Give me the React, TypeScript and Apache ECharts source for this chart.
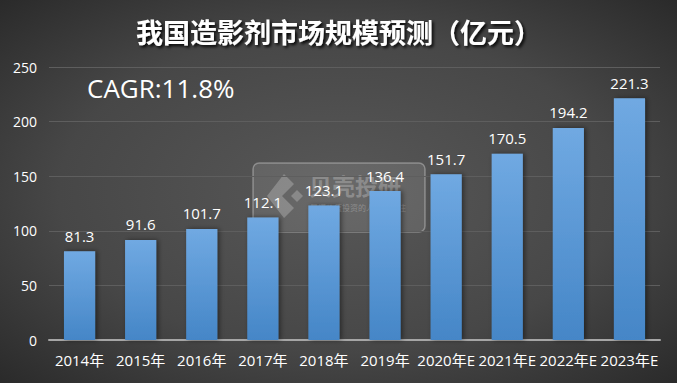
import React, { useEffect, useRef } from "react";
import * as echarts from "echarts";

const categories = ["2014年", "2015年", "2016年", "2017年", "2018年", "2019年", "2020年E", "2021年E", "2022年E", "2023年E"];
const values = [81.3, 91.6, 101.7, 112.1, 123.1, 136.4, 151.7, 170.5, 194.2, 221.3];
const yTicks = { min: 0, max: 250, interval: 50 };
const titleText = "我国造影剂市场规模预测（亿元）";
const cagrText = "CAGR:11.8%";
const watermarkTitle = "贝壳投研";
const watermarkSub = "最懂价值投资的人都在关注";

const numFont = "'Open Sans', 'Noto Sans CJK SC', sans-serif";

export default function App() {
  const ref = useRef<HTMLDivElement>(null);
  useEffect(() => {
    document.body.style.margin = "0";
    const chart = echarts.init(ref.current!, null, { renderer: "svg" });
    chart.setOption({
      animation: false,
      backgroundColor: "transparent",
      grid: { left: 49, right: 17, top: 67, bottom: 43 },
      title: {
        text: titleText,
        left: "center",
        top: 13,
        textStyle: {
          color: "#ffffff",
          fontSize: 27,
          fontWeight: "bold",
          fontFamily: "'Noto Sans CJK SC', sans-serif",
          textShadowColor: "rgba(0,0,0,0.9)",
          textShadowBlur: 3,
          textShadowOffsetX: 2,
          textShadowOffsetY: 2,
        },
      },
      xAxis: {
        type: "category",
        data: categories,
        axisLine: { lineStyle: { color: "#a6a6a6", width: 2 } },
        axisTick: { show: false },
        axisLabel: { color: "#ffffff", fontSize: 15, margin: 12, fontFamily: numFont, interval: 0 },
      },
      yAxis: {
        type: "value",
        min: yTicks.min,
        max: yTicks.max,
        interval: yTicks.interval,
        axisLine: { show: false },
        axisTick: { show: false },
        axisLabel: { color: "#ffffff", fontSize: 14, margin: 12, fontFamily: numFont },
        splitLine: { lineStyle: { color: "#5e5e5e", width: 1 } },
      },
      series: [
        {
          type: "bar",
          data: values,
          barWidth: "51%",
          z: 1,
          itemStyle: {
            color: new echarts.graphic.LinearGradient(0, 0, 0, 1, [
              { offset: 0, color: "#70a9e2" },
              { offset: 1, color: "#4586c7" },
            ]),
            shadowColor: "rgba(0,0,0,0.45)",
            shadowBlur: 5,
            shadowOffsetX: 2,
            shadowOffsetY: 0,
          },
        },
        {
          type: "bar",
          data: values,
          barWidth: "51%",
          barGap: "-100%",
          z: 5,
          silent: true,
          itemStyle: { color: "rgba(0,0,0,0)" },
          label: {
            show: true,
            position: "top",
            distance: 8,
            color: "#ffffff",
            fontSize: 15,
            fontFamily: numFont,
          },
        },
      ],
      graphic: [
        {
          type: "rect",
          z: -10,
          silent: true,
          shape: { x: 0, y: 0, width: 677, height: 383 },
          style: {
            fill: new echarts.graphic.RadialGradient(0.5, 0.5, 0.75, [
              { offset: 0, color: "#585858" },
              { offset: 0.55, color: "#474747" },
              { offset: 1, color: "#262626" },
            ]),
          },
        },
        {
          type: "text",
          left: 87,
          top: 75,
          z: 5,
          style: {
            text: cagrText,
            fill: "#ffffff",
            fontSize: 26,
            fontFamily: numFont,
          },
        },
        {
          type: "group",
          z: 3,
          children: [
            {
              type: "rect",
              shape: { x: 253, y: 163, width: 172, height: 69, r: 6 },
              style: { fill: "rgba(255,255,255,0.1)", stroke: "rgba(255,255,255,0.3)", lineWidth: 1.5 },
            },
            {
              type: "polygon",
              shape: { points: [[284, 174], [294, 184], [282, 196], [294, 208], [284, 218], [267, 196]] },
              style: { fill: "rgba(190,190,190,0.4)" },
            },
            {
              type: "polygon",
              shape: { points: [[297, 190], [303, 196], [297, 202], [291, 196]] },
              style: { fill: "rgba(190,190,190,0.4)" },
            },
            {
              type: "text",
              x: 309,
              y: 173,
              style: {
                text: watermarkTitle,
                fill: "rgba(200,200,200,0.4)",
                fontSize: 23,
                fontWeight: "bold",
                fontFamily: "'Noto Sans CJK SC', sans-serif",
              },
            },
            {
              type: "text",
              x: 310,
              y: 203,
              style: {
                text: watermarkSub,
                fill: "rgba(200,200,200,0.4)",
                fontSize: 8,
                fontFamily: "'Noto Sans CJK SC', sans-serif",
              },
            },
          ],
        },
      ],
    });
    return () => chart.dispose();
  }, []);
  return <div ref={ref} style={{ width: 677, height: 383 }} />;
}
